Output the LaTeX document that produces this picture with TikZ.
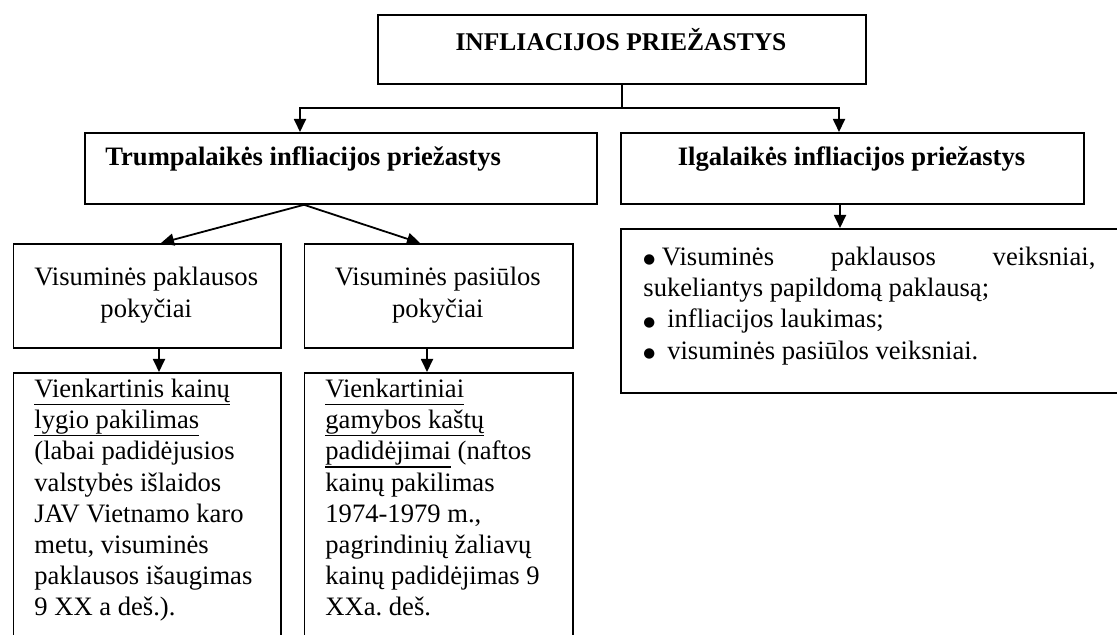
\documentclass[tikz,border=0pt]{standalone}
\usepackage{fontspec}
\setmainfont{Liberation Serif}
\frenchspacing
\newfontfamily\bulletfont{DejaVu Sans}
\newcommand{\blt}{\raisebox{0.9pt}{\bulletfont\fontsize{6.8pt}{6.8pt}\selectfont ●}}
\newcommand{\myul}[1]{\setbox0\hbox{#1}\rlap{\rule[-3.9pt]{\wd0}{0.6pt}}\box0\relax}
\usetikzlibrary{arrows.meta,calc}
\begin{document}
\begin{tikzpicture}[x=0.5pt,y=-0.5pt,
  box/.style={draw,line width=0.9pt,inner sep=0pt,anchor=north west},
  txt/.style={inner sep=0pt,font=\fontsize{13.3pt}{15.6pt}\selectfont\frenchspacing},
  btxt/.style={inner sep=0pt,font=\fontsize{13.3pt}{15.6pt}\selectfont\bfseries},
  arr/.style={line width=0.9pt,-{Triangle[length=6.5pt,width=6pt]}},
  ln/.style={line width=0.9pt}]
\path[use as bounding box] (0,0) rectangle (1117,635);
\clip (0,0) rectangle (1117,635);

% boxes
\node[box,minimum width=244pt,minimum height=34.5pt] (title) at (377,14) {};
\node[btxt,font=\fontsize{12.75pt}{15pt}\selectfont\bfseries,anchor=base] (titletxt) at (621,51) {INFLIACIJOS PRIEŽASTYS};

\node[box,minimum width=256pt,minimum height=35.5pt] (trump) at (84,132) {};
\node[btxt,anchor=base west] (trumptxt) at (105,166) {Trumpalaikės infliacijos priežastys};

\node[box,minimum width=231.5pt,minimum height=35.5pt] (ilg) at (620,132) {};
\node[btxt,anchor=base] (ilgtxt) at (851.5,166) {Ilgalaikės infliacijos priežastys};

\node[box,minimum width=133.75pt,minimum height=52pt] (sb1) at (12.5,243) {};
\node[txt,align=center,anchor=north] (sb1txt) at (146.25,263.6) {\strut Visuminės paklausos\\pokyčiai};

\node[box,minimum width=134.2pt,minimum height=52pt] (sb2) at (303.6,243) {};
\node[txt,align=center,anchor=north] (sb2txt) at (437.8,263.6) {\strut Visuminės pasiūlos\\pokyčiai};

\node[box,minimum width=133.75pt,minimum height=150pt] (bb1) at (12.5,372) {};
\node[txt,align=left,anchor=north west] (bb1txt) at (34,375.2) {\strut\myul{Vienkartinis kainų}\\
\myul{lygio pakilimas}\\
(labai padidėjusios\\
valstybės išlaidos\\
JAV Vietnamo karo\\
metu, visuminės\\
paklausos išaugimas\\
9 XX a deš.).};

\node[box,minimum width=134.2pt,minimum height=150pt] (bb2) at (303.6,372) {};
\node[txt,align=left,anchor=north west] (bb2txt) at (325,375.2) {\strut\myul{Vienkartiniai}\\
\myul{gamybos kaštų}\\
\myul{padidėjimai} (naftos\\
kainų pakilimas\\
1974-1979 m.,\\
pagrindinių žaliavų\\
kainų padidėjimas 9\\
XXa. deš.};

\node[box,minimum width=260pt,minimum height=82pt] (bul) at (620,228) {};
\node[txt,align=left,anchor=north west] (bultxt) at (643,243.2) {\hbox to 226pt{\strut\blt\ Visuminės\hfill paklausos\hfill veiksniai,}\\
sukeliantys papildomą paklausą;\\
\blt\hspace{6pt}infliacijos laukimas;\\
\blt\hspace{6pt}visuminės pasiūlos veiksniai.};

% connectors
\coordinate (j) at (621,108);
\draw[ln] (title.south) -- (title.south |- j);
\draw[arr] (title.south |- j) -| ($(trump.north west)+(216,0)$);
\draw[arr] (title.south |- j) -| ($(ilg.north west)+(219,0)$);
\coordinate (ts) at ($(trump.south west)+(220,0)$);
\draw[arr] (ts) -- ($(sb1.north west)+(148.5,0)$);
\draw[arr] (ts) -- ($(sb2.north west)+(116.4,0)$);
\draw[arr] ($(sb1.south west)+(146.5,0)$) -- ($(bb1.north west)+(146.5,0)$);
\draw[arr] ($(sb2.south west)+(123.4,0)$) -- ($(bb2.north west)+(123.4,0)$);
\draw[arr] ($(ilg.south west)+(220,0)$) -- ($(bul.north west)+(220,0)$);
\end{tikzpicture}
\end{document}
